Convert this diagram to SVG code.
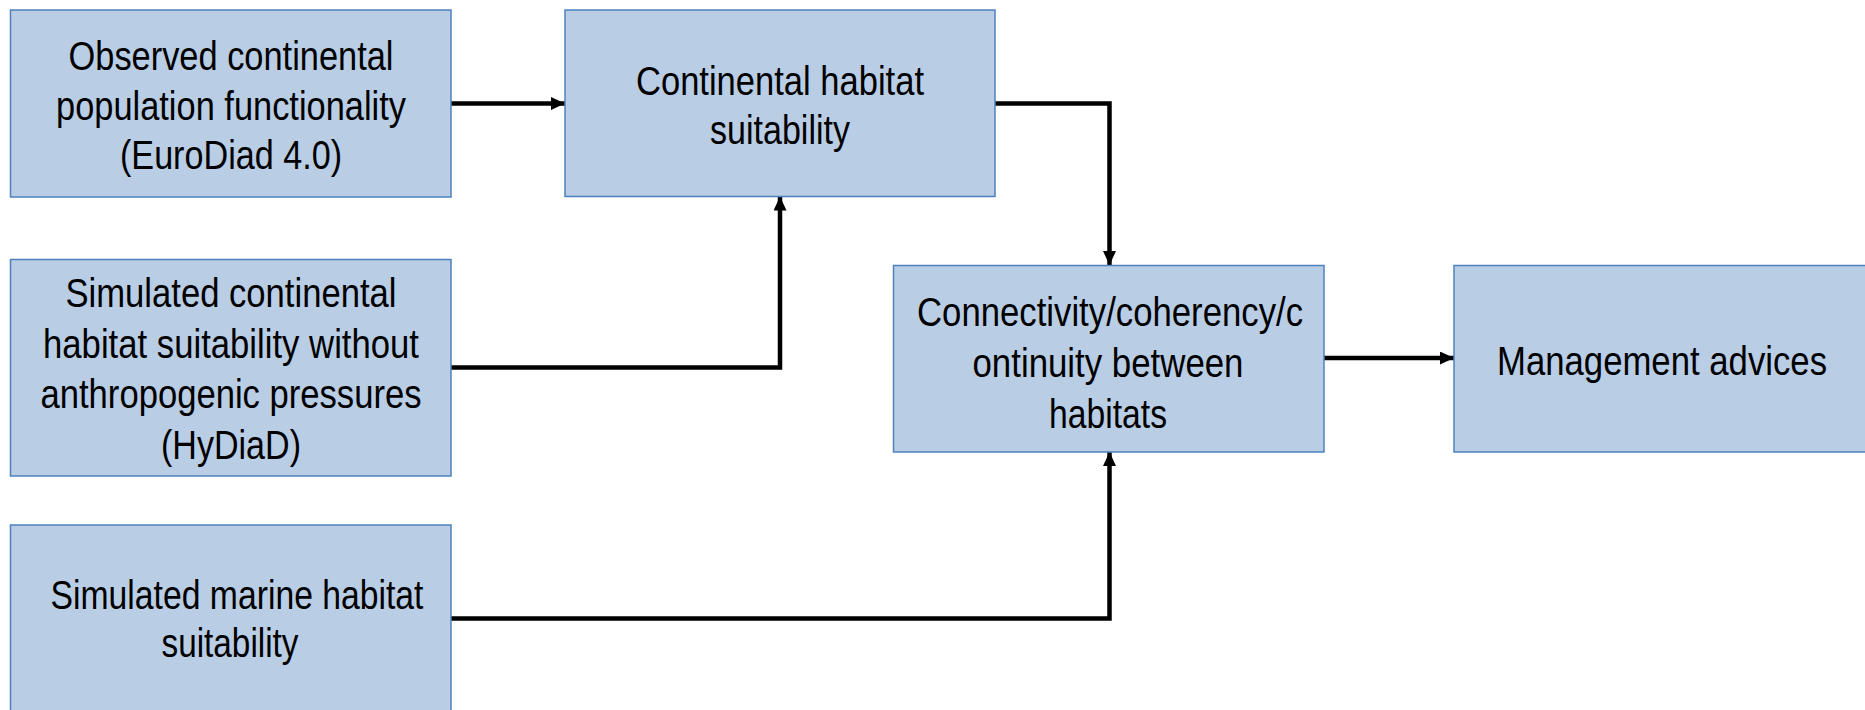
<svg xmlns="http://www.w3.org/2000/svg" width="1865" height="710" viewBox="0 0 1865 710">
  <defs>
    <style>
      .box { fill: #B9CDE5; stroke: #4F81BD; stroke-width: 1.5; }
      .lbl { font-family: "Liberation Sans", Arial, sans-serif; font-size: 41px; fill: #000; text-anchor: middle; }
      .link { fill: none; stroke: #000; stroke-width: 4.5; stroke-linejoin: miter; }
    </style>
    <marker id="arrow" markerUnits="userSpaceOnUse" markerWidth="15" markerHeight="13" refX="14" refY="6.5" orient="auto">
      <path d="M0,0 L14,6.5 L0,13 Z" fill="#000"/>
    </marker>
  </defs>
  <rect width="1865" height="710" fill="#FFFFFF"/>

  <!-- connectors -->
  <g id="connectors">
    <path class="link" d="M451,103.5 H565" marker-end="url(#arrow)"/>
    <path class="link" d="M995,103.5 H1109.5 V265" marker-end="url(#arrow)"/>
    <path class="link" d="M451,367.5 H780 V196.5" marker-end="url(#arrow)"/>
    <path class="link" d="M451,618.5 H1109.5 V452" marker-end="url(#arrow)"/>
    <path class="link" d="M1324,358 H1454" marker-end="url(#arrow)"/>
  </g>

  <g id="observed-continental">
    <rect class="box" x="10.5" y="10" width="440.5" height="187"/>
    <text class="lbl" x="231" y="70" textLength="325" lengthAdjust="spacingAndGlyphs">Observed continental</text>
    <text class="lbl" x="231" y="119.5" textLength="350" lengthAdjust="spacingAndGlyphs">population functionality</text>
    <text class="lbl" x="231" y="169" textLength="222" lengthAdjust="spacingAndGlyphs">(EuroDiad 4.0)</text>
  </g>

  <g id="continental-suitability">
    <rect class="box" x="565" y="10" width="430" height="186.5"/>
    <text class="lbl" x="780" y="94.5" textLength="288" lengthAdjust="spacingAndGlyphs">Continental habitat</text>
    <text class="lbl" x="780" y="143.5" textLength="140" lengthAdjust="spacingAndGlyphs">suitability</text>
  </g>

  <g id="simulated-continental">
    <rect class="box" x="10.5" y="259.5" width="440.5" height="216.5"/>
    <text class="lbl" x="231" y="307" textLength="331" lengthAdjust="spacingAndGlyphs">Simulated continental</text>
    <text class="lbl" x="231" y="357.5" textLength="376" lengthAdjust="spacingAndGlyphs">habitat suitability without</text>
    <text class="lbl" x="231" y="408" textLength="381" lengthAdjust="spacingAndGlyphs">anthropogenic pressures</text>
    <text class="lbl" x="231" y="458.5" textLength="140" lengthAdjust="spacingAndGlyphs">(HyDiaD)</text>
  </g>

  <g id="simulated-marine">
    <rect class="box" x="10.5" y="525" width="440.5" height="188"/>
    <text class="lbl" x="237" y="608.5" textLength="373" lengthAdjust="spacingAndGlyphs">Simulated marine habitat</text>
    <text class="lbl" x="230" y="657" textLength="137" lengthAdjust="spacingAndGlyphs">suitability</text>
  </g>

  <g id="connectivity">
    <rect class="box" x="893.5" y="265.5" width="430.5" height="186.5"/>
    <text class="lbl" x="1110" y="326" textLength="386" lengthAdjust="spacingAndGlyphs">Connectivity/coherency/c</text>
    <text class="lbl" x="1108" y="377" textLength="271" lengthAdjust="spacingAndGlyphs">ontinuity between</text>
    <text class="lbl" x="1108" y="427.5" textLength="118" lengthAdjust="spacingAndGlyphs">habitats</text>
  </g>

  <g id="management">
    <rect class="box" x="1454" y="265.5" width="412" height="186.5"/>
    <text class="lbl" x="1662" y="374.5" textLength="330" lengthAdjust="spacingAndGlyphs">Management advices</text>
  </g>
</svg>
